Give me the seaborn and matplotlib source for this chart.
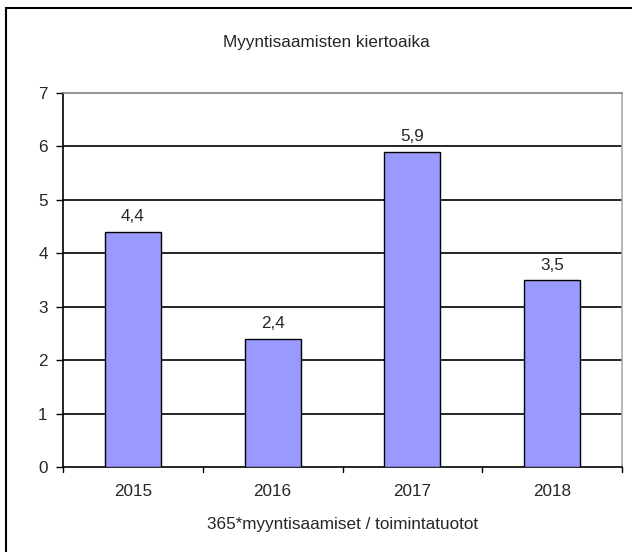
import matplotlib
matplotlib.use("Agg")
import matplotlib.pyplot as plt
import seaborn as sns
import pandas as pd

# data
years = ['2015', '2016', '2017', '2018']
values = [4.4, 2.4, 5.9, 3.5]
yticks = [0, 1, 2, 3, 4, 5, 6, 7]

df = pd.DataFrame({'year': years, 'value': values})

sns.set_style('white')
plt.rcParams['font.family'] = ['Liberation Sans', 'DejaVu Sans']
fs = 12.3

fig = plt.figure(figsize=(6.32, 5.52), dpi=100)
ax = fig.add_axes([63 / 632, 1 - 467 / 552, 559 / 632, 374 / 552])

sns.barplot(data=df, x='year', y='value', color='#9999FF', saturation=1,
            width=0.4, edgecolor='black', linewidth=1, ax=ax, zorder=3)

ax.set_ylim(0, 7)
ax.set_xlim(-0.5, 3.5)
ax.set_yticks(yticks)
ax.set_yticklabels([str(t) for t in yticks], fontsize=fs)
ax.tick_params(axis='y', length=5, width=1, color='black', direction='out', pad=6, left=True)
ax.tick_params(axis='x', length=0, labelsize=fs, pad=12)

# category boundary ticks on x axis
for b in [-0.5, 0.5, 1.5, 2.5, 3.5]:
    ax.plot([b, b], [0, -0.1], color='black', lw=1, clip_on=False, zorder=4)

for t in yticks[1:-1]:
    ax.axhline(t, color='black', lw=1.2, zorder=1)

ax.spines['left'].set_color('black')
ax.spines['bottom'].set_color('black')
ax.spines['top'].set_color('#808080')
ax.spines['right'].set_color('#aaaaaa')
for s in ax.spines.values():
    s.set_linewidth(1.2)
    s.set_visible(True)

for i, v in enumerate(values):
    ax.text(i, v + 0.14, f'{v:.1f}'.replace('.', ','), ha='center', va='bottom', fontsize=fs)

ax.set_xlabel('365*myyntisaamiset / toimintatuotot', fontsize=fs, labelpad=13)
ax.set_ylabel('')
fig.text(0.5 + 10 / 632, 1 - 43 / 552, 'Myyntisaamisten kiertoaika', ha='center', va='center', fontsize=fs)

# outer chart border
fig.add_artist(plt.Rectangle((6 / 632, -0.05), 1.1, 1 - 8 / 552 + 0.05, transform=fig.transFigure,
                             fill=False, edgecolor='black', lw=1.5))

fig.savefig('out.png', dpi=100)
